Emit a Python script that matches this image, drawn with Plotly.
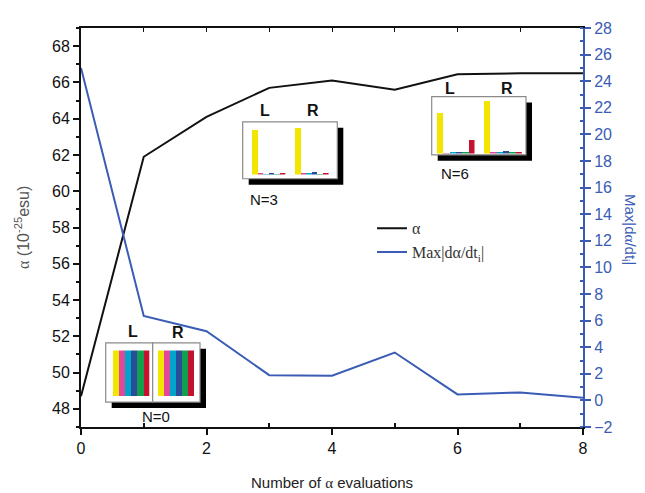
import plotly.graph_objects as go

# ---------------- data ----------------
n_evals = [0, 1, 2, 3, 4, 5, 6, 7, 8]
alpha_vals = [48.7, 61.9, 64.1, 65.7, 66.1, 65.6, 66.45, 66.5, 66.5]
max_grad = [25.0, 6.35, 5.2, 1.9, 1.85, 3.6, 0.45, 0.6, 0.2]

components = ["c1", "c2", "c3", "c4", "c5", "c6"]
inset_N0_L = [1, 1, 1, 1, 1, 1]
inset_N0_R = [1, 1, 1, 1, 1, 1]
inset_N3_L = [0.96, 0.02, 0.015, 0.02, 0.01, 0.04]
inset_N3_R = [1.0, 0.02, 0.02, 0.05, 0.01, 0.02]
inset_N6_L = [0.78, 0.005, 0.01, 0.01, 0.01, 0.25]
inset_N6_R = [1.0, 0.01, 0.01, 0.05, 0.01, 0.02]

# ---------------- styles ----------------
W, H = 645, 493
OFF = 8  # page body margin
# plot area on screen: x 81..583, y 22..427
SX0, SX1, SY0, SY1 = 81, 583, 22, 427
ML, MT = SX0 - OFF, SY0 - OFF
MR, MB = W - (SX1 - OFF), H - (SY1 - OFF)
PW, PH = SX1 - SX0, SY1 - SY0
BLUE = "#3a5cb5"
BAR_COLORS = ["#f2e600", "#e0489c", "#00a6c8", "#2b4b9b", "#12a050", "#c41230"]


def px(x):
    return (x - SX0) / PW


def py(y):
    return (SY1 - y) / PH


fig = go.Figure()

fig.add_trace(go.Scatter(x=n_evals, y=alpha_vals, mode="lines", name="α",
                         line=dict(color="#111111", width=2), yaxis="y"))
fig.add_trace(go.Scatter(x=n_evals, y=max_grad, mode="lines",
                         name="Max|dα/dt<sub>i</sub>|",
                         line=dict(color=BLUE, width=2), yaxis="y2"))
# dummy trace to register the top tick axis
fig.add_trace(go.Scatter(x=[0], y=[None], xaxis="x2", yaxis="y",
                         showlegend=False, hoverinfo="skip"))

# ---------------- insets ----------------
insets = [
    # (values, x-left, x-right, y-bottom, y-top) in screen pixels
    (inset_N0_L, 112.7, 149.3, 396, 349.3),
    (inset_N0_R, 157.7, 194.0, 396, 349.3),
    (inset_N3_L, 251.7, 285.3, 170.7, 123.3),
    (inset_N3_R, 295.0, 328.6, 170.7, 123.3),
    (inset_N6_L, 436.7, 474.5, 149.3, 96.0),
    (inset_N6_R, 484.0, 521.8, 149.3, 96.0),
]
layout_axes = {}
for i, (vals, x0, x1, yb, yt) in enumerate(insets):
    k = i + 3
    fig.add_trace(go.Bar(x=components, y=vals, marker=dict(color=BAR_COLORS, line=dict(width=0)),
                         width=1.0, xaxis=f"x{k}", yaxis=f"y{k}", showlegend=False,
                         hoverinfo="skip"))
    layout_axes[f"xaxis{k}"] = dict(domain=[px(x0), px(x1)], anchor=f"y{k}", visible=False,
                                    range=[-0.5, 5.5], fixedrange=True)
    layout_axes[f"yaxis{k}"] = dict(domain=[py(yb), py(yt)], anchor=f"x{k}", visible=False,
                                    range=[0, 1], fixedrange=True)

boxes = [
    [(105.7, 341.7, 152.7, 401.7), (152.7, 341.7, 200.0, 401.7)],
    [(242.7, 117.3, 337.3, 175.0)],
    [(431.7, 91.7, 526.0, 150.7)],
]
shapes = []
for group in boxes:
    gx0 = min(b[0] for b in group); gy0 = min(b[1] for b in group)
    gx1 = max(b[2] for b in group); gy1 = max(b[3] for b in group)
    shapes.append(dict(type="rect", xref="paper", yref="paper", layer="below",
                       x0=px(gx0 + 6), x1=px(gx1 + 6), y0=py(gy1 + 6), y1=py(gy0 + 6),
                       fillcolor="#000000", line=dict(width=0)))
for group in boxes:
    for (bx0, by0, bx1, by1) in group:
        shapes.append(dict(type="rect", xref="paper", yref="paper", layer="below",
                           x0=px(bx0), x1=px(bx1), y0=py(by1), y1=py(by0),
                           fillcolor="#ffffff", line=dict(color="#8a8a8a", width=1.2)))

labels = [
    ("L", 133, 330, True), ("R", 178, 331, True), ("N=0", 156, 416, False),
    ("L", 265, 106, True), ("R", 313, 106, True), ("N=3", 264, 196, False),
    ("L", 450, 83, True), ("R", 507, 83, True), ("N=6", 455, 170, False),
]
annotations = []
for txt, x, y, bold in labels:
    annotations.append(dict(text=f"<b>{txt}</b>" if bold else txt, x=px(x), y=py(y),
                            xref="paper", yref="paper", showarrow=False,
                            xanchor="center", yanchor="middle",
                            font=dict(family="Liberation Sans", size=16 if bold else 15,
                                      color="#111111")))

annotations.append(dict(text="Number of <span style='font-family:Liberation Serif'>α</span> evaluations",
                        x=px(332), y=py(483), xref="paper", yref="paper", showarrow=False,
                        xanchor="center", yanchor="middle",
                        font=dict(family="Liberation Sans", size=15, color="#222222")))
annotations.append(dict(text="<span style='font-family:Liberation Serif'>α</span> (10<sup>-25</sup>esu)",
                        x=px(22), y=py(225), xref="paper", yref="paper", showarrow=False,
                        textangle=-90, xanchor="center", yanchor="middle",
                        font=dict(family="Liberation Sans", size=16, color="#555555")))
annotations.append(dict(text="Max|d<span style='font-family:Liberation Serif'>α</span>/dt<sub>i</sub>|",
                        x=px(629), y=py(226), xref="paper", yref="paper", showarrow=False,
                        textangle=90, xanchor="center", yanchor="middle",
                        font=dict(family="Liberation Sans", size=15, color=BLUE)))

tickfont = dict(family="Liberation Sans", size=16, color="#111111")

fig.update_layout(
    width=W, height=H,
    margin=dict(l=ML, r=MR, t=MT, b=MB),
    paper_bgcolor="white", plot_bgcolor="white",
    showlegend=True,
    legend=dict(x=px(372), y=py(208), xanchor="left", yanchor="top",
                bgcolor="rgba(0,0,0,0)", font=dict(family="Liberation Serif", size=16, color="#333333"),
                tracegroupgap=2),
    xaxis=dict(range=[0, 8], tickvals=[0, 2, 4, 6, 8], ticks="outside", ticklen=6, tickwidth=1.5,
               tickcolor="#111111", showline=True, linecolor="#111111", linewidth=2,
               showgrid=False, zeroline=False, tickfont=tickfont,
               minor=dict(tickvals=[1, 3, 5, 7], ticks="inside", ticklen=4, tickcolor="#111111",
                          showgrid=False)),
    xaxis2=dict(range=[0, 8], overlaying="x", side="top", anchor="y", showline=True,
                linecolor="#111111", linewidth=2, ticks="inside", ticklen=4, dtick=1, tick0=0,
                tickcolor="#111111", showticklabels=False, showgrid=False, zeroline=False),
    yaxis=dict(range=[47, 69], dtick=2, tick0=48, ticks="outside", ticklen=6, tickwidth=1.5,
               tickcolor="#111111", showline=True, linecolor="#111111", linewidth=2,
               showgrid=False, zeroline=False, tickfont=tickfont,
               minor=dict(dtick=1, tick0=47, ticks="outside", ticklen=3, tickcolor="#111111",
                          showgrid=False)),
    yaxis2=dict(range=[-2, 28], dtick=2, tick0=-2, overlaying="y", side="right", anchor="x",
                ticks="outside", ticklen=6, tickwidth=1.5, tickcolor=BLUE, showline=True,
                linecolor=BLUE, linewidth=2, showgrid=False, zeroline=False,
                tickfont=dict(family="Liberation Sans", size=16, color=BLUE),
                minor=dict(dtick=1, tick0=-2, ticks="inside", ticklen=3, tickcolor=BLUE,
                           showgrid=False)),
    shapes=shapes,
    annotations=annotations,
    bargap=0,
    **layout_axes,
)

fig.write_html("out.html")
